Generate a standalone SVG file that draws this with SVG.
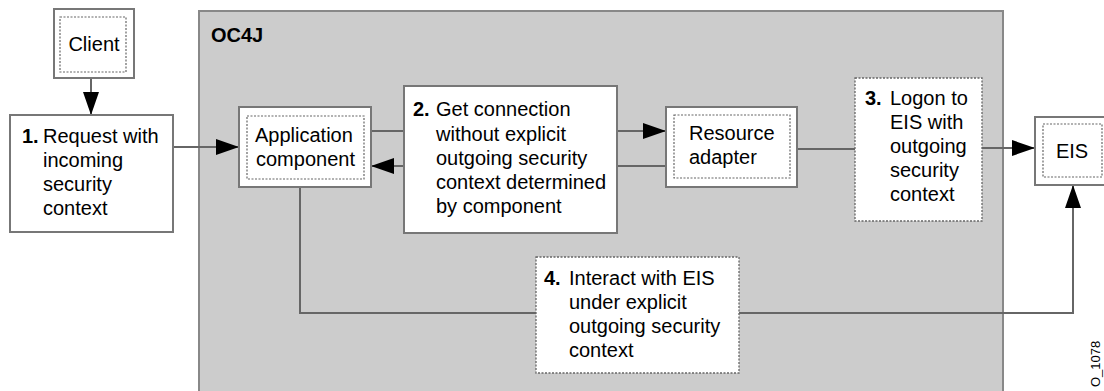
<svg xmlns="http://www.w3.org/2000/svg" width="1104" height="391" viewBox="0 0 1104 391">
<defs>
<marker id="arr" markerUnits="userSpaceOnUse" markerWidth="26" markerHeight="18" refX="23" refY="8" orient="auto">
<path d="M0,0 L23,8 L0,16 Z" fill="#000"/>
</marker>
<style>
text{font-family:"Liberation Sans",Arial,Helvetica,sans-serif;font-size:20px;fill:#000}
.num{font-weight:bold}
.outer{fill:#fff;stroke:#777;stroke-width:2}
.inner{fill:none;stroke:#666;stroke-width:1.2;stroke-dasharray:2 1.5}
.dot{fill:#fff;stroke:#666;stroke-width:1.3;stroke-dasharray:2 1.5}
.conn{fill:none;stroke:#666;stroke-width:2}
</style>
</defs>
<rect width="1104" height="391" fill="#fff"/>
<g id="oc4j">
<rect x="199" y="11" width="804" height="392" fill="#cccccc" stroke="#888" stroke-width="2"/>
<text x="211" y="42" style="font-weight:bold">OC4J</text>
</g>
<g id="connectors">
<line class="conn" x1="91" y1="78" x2="91" y2="115" marker-end="url(#arr)"/>
<line class="conn" x1="173" y1="147" x2="239" y2="147" marker-end="url(#arr)"/>
<line class="conn" x1="371" y1="131" x2="404" y2="131"/>
<line class="conn" x1="404" y1="166" x2="371" y2="166" marker-end="url(#arr)"/>
<line class="conn" x1="617" y1="131" x2="666" y2="131" marker-end="url(#arr)"/>
<line class="conn" x1="666" y1="166" x2="617" y2="166"/>
<line class="conn" x1="797" y1="149" x2="855" y2="149"/>
<line class="conn" x1="982" y1="148" x2="1035" y2="148" marker-end="url(#arr)"/>
<polyline class="conn" points="300,187 300,313 536,313"/>
<polyline class="conn" points="739,313 1073,313 1073,185" marker-end="url(#arr)"/>
</g>
<g id="client">
<rect class="outer" x="54" y="9" width="80" height="69"/>
<rect class="inner" x="60" y="17" width="66" height="55"/>
<text x="94" y="51" text-anchor="middle">Client</text>
</g>
<g id="request">
<rect class="outer" x="10" y="115" width="163" height="117"/>
<text x="22" y="143" class="num">1.</text>
<text x="43" y="143">Request with</text>
<text x="43" y="167">incoming</text>
<text x="43" y="191">security</text>
<text x="43" y="215">context</text>
</g>
<g id="app">
<rect class="outer" x="239" y="107" width="132" height="80"/>
<rect class="inner" x="247" y="116" width="117" height="63"/>
<text x="255" y="142">Application</text>
<text x="256" y="166">component</text>
</g>
<g id="getconn">
<rect class="outer" x="404" y="86" width="213" height="147"/>
<text x="413" y="116" class="num">2.</text>
<text x="436" y="116">Get connection</text>
<text x="436" y="141">without explicit</text>
<text x="436" y="165">outgoing security</text>
<text x="436" y="189">context determined</text>
<text x="436" y="213">by component</text>
</g>
<g id="adapter">
<rect class="outer" x="666" y="107" width="131" height="80"/>
<rect class="inner" x="674" y="115" width="116" height="63"/>
<text x="689" y="140">Resource</text>
<text x="689" y="164">adapter</text>
</g>
<g id="logon">
<rect class="dot" x="855" y="78" width="127" height="143"/>
<text x="865" y="105" class="num">3.</text>
<text x="890" y="105">Logon to</text>
<text x="890" y="129">EIS with</text>
<text x="890" y="153">outgoing</text>
<text x="890" y="177">security</text>
<text x="890" y="201">context</text>
</g>
<g id="eis">
<rect class="outer" x="1035" y="117" width="80" height="68"/>
<rect class="inner" x="1043" y="124" width="59" height="53"/>
<text x="1072" y="158" text-anchor="middle">EIS</text>
</g>
<g id="interact">
<rect class="dot" x="536" y="257" width="203" height="116"/>
<text x="544" y="285" class="num">4.</text>
<text x="569" y="285">Interact with EIS</text>
<text x="569" y="309">under explicit</text>
<text x="569" y="333">outgoing security</text>
<text x="569" y="357">context</text>
</g>
<text x="0" y="0" transform="translate(1100,387) rotate(-90)" style="font-size:13px">O_1078</text>
</svg>
